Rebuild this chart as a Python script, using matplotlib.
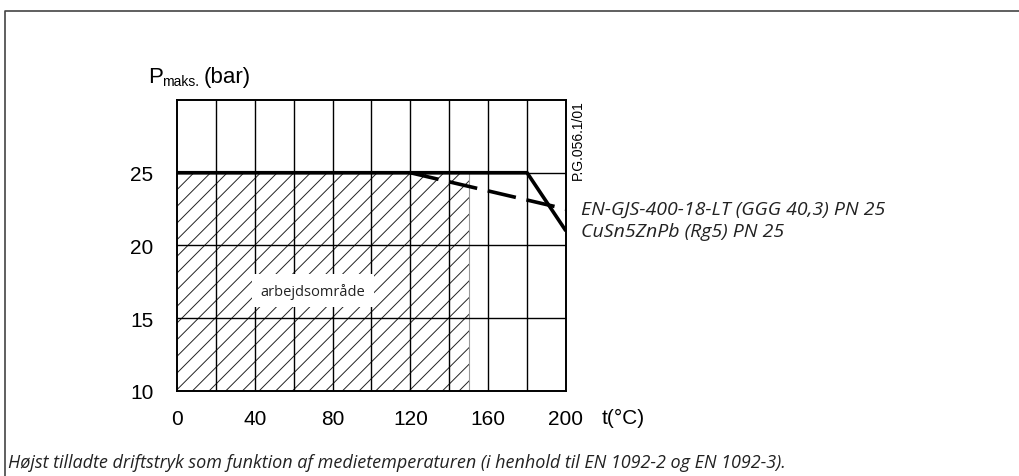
"""
Maks. driftstryk vs. medietemperatur (EN 1092-2 / EN 1092-3).
Output: out.png
"""
import matplotlib.pyplot as plt
from matplotlib.lines import Line2D
from matplotlib.patches import Rectangle

# data
temp_ticks = [0, 40, 80, 120, 160, 200]
grid_x = list(range(0, 201, 20))
pres_ticks = [10, 15, 20, 25]

ggg_t = [120, 200]          # EN-GJS-400-18-LT, stiplet
ggg_p = [25, 22.5]
rg5_t = [0, 180, 200]       # CuSn5ZnPb, fuldt optrukket
rg5_p = [25, 25, 21]

work_t = (0, 150)           # arbejdsområde
work_p = (10, 25)

legend_lbl = ["EN-GJS-400-18-LT (GGG 40,3) PN 25", "CuSn5ZnPb (Rg5) PN 25"]
caption = ("Højst tilladte driftstryk som funktion af medietemperaturen "
           "(i henhold til EN 1092-2 og EN 1092-3).")

plt.rcParams["font.family"] = ["Liberation Sans", "DejaVu Sans"]
plt.rcParams["hatch.linewidth"] = 0.7

fig = plt.figure(figsize=(10.19, 4.77), dpi=100)
ax = fig.add_axes([0.1737, 0.1782, 0.3817, 0.6101])
ax.set_xlim(0, 200)
ax.set_ylim(10, 30)

# skraveret arbejdsområde
ax.add_patch(Rectangle((work_t[0], work_p[0]), work_t[1] - work_t[0],
                       work_p[1] - work_p[0], fill=False, hatch="//",
                       lw=0, edgecolor="#222222", zorder=1))
ax.plot([work_t[1], work_t[1]], work_p, color="#999999", lw=0.8, zorder=1)

# gitter
for x in grid_x[1:-1]:
    ax.axvline(x, color="black", lw=1.0, zorder=2)
for y in pres_ticks[1:]:
    ax.axhline(y, color="black", lw=1.0, zorder=2)

ax.plot(rg5_t, rg5_p, color="black", lw=2.6, zorder=4,
        solid_capstyle="butt")
ax.plot(ggg_t, ggg_p, color="black", lw=2.6, ls=(0, (8, 3)), zorder=4)

ax.text(70, 16.9, "arbejdsområde", ha="center", va="center",
        fontsize=10.5, family=["Open Sans", "DejaVu Sans"], color="#222222",
        bbox=dict(facecolor="white", edgecolor="none", pad=6), zorder=5)

for s in ax.spines.values():
    s.set_linewidth(1.4)

ax.set_xticks(temp_ticks)
ax.set_yticks(pres_ticks)
ax.tick_params(length=0, labelsize=15, pad=13)
ax.tick_params(axis="y", pad=17)

fig.text(0.590, 0.122, "t(°C)", fontsize=15, va="center")

# y-aksens titel: P med lille "maks." som indeks
fig.text(0.145, 0.826, "P", fontsize=16, va="baseline")
fig.text(0.159, 0.820, "maks.", fontsize=10, va="baseline")
fig.text(0.200, 0.826, "(bar)", fontsize=16, va="baseline")

fig.text(0.567, 0.707, "P.G.056.1/01", rotation=90, fontsize=10,
         ha="center", va="center")

for i, lbl in enumerate(legend_lbl):
    fig.text(0.570, 0.560 - i * 0.047, lbl, fontsize=14, style="italic",
             va="center", color="#222222",
             family=["Open Sans", "DejaVu Sans"])

fig.text(0.008, 0.030, caption, fontsize=13, style="italic",
         va="center", color="#222222", family=["Open Sans", "DejaVu Sans"])

# ydre ramme
fig.add_artist(Line2D([0.005, 0.005, 1.0], [0.0, 0.975, 0.975],
                      transform=fig.transFigure, color="#444444", lw=1.2))

fig.savefig("out.png", dpi=100)
